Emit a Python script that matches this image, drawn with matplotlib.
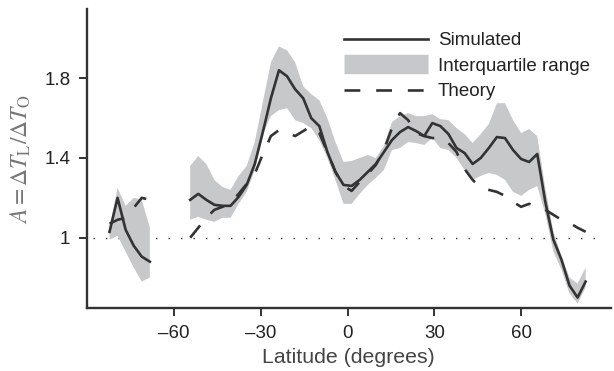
import numpy as np
import matplotlib
matplotlib.use("Agg")
import matplotlib.pyplot as plt
from matplotlib.lines import Line2D

nan = np.nan
lats = [-82.31, -79.53, -76.74, -73.95, -71.16, -68.37, -65.58, -62.79, -60.00, -57.21,
        -54.42, -51.63, -48.84, -46.04, -43.25, -40.46, -37.67, -34.88, -32.09, -29.30,
        -26.51, -23.72, -20.93, -18.14, -15.35, -12.56, -9.77, -6.98, -4.19, -1.40,
        1.40, 4.19, 6.98, 9.77, 12.56, 15.35, 18.14, 20.93, 23.72, 26.51,
        29.30, 32.09, 34.88, 37.67, 40.46, 43.25, 46.04, 48.84, 51.63, 54.42,
        57.21, 60.00, 62.79, 65.58, 68.37, 71.16, 73.95, 76.74, 79.53, 82.31]

simulated = [1.03, 1.20, 1.04, 0.96, 0.905, 0.88, nan, nan, nan, nan,
             1.19, 1.22, 1.19, 1.165, 1.16, 1.16, 1.205, 1.265, 1.37, 1.53,
             1.70, 1.84, 1.81, 1.745, 1.70, 1.60, 1.56, 1.43, 1.33, 1.265,
             1.26, 1.29, 1.33, 1.37, 1.43, 1.49, 1.53, 1.555, 1.535, 1.51,
             1.575, 1.56, 1.52, 1.45, 1.425, 1.37, 1.40, 1.45, 1.505, 1.50,
             1.44, 1.395, 1.38, 1.42, 1.18, 0.99, 0.89, 0.76, 0.70, 0.78]

iqr_low = [0.99, 1.01, 0.93, 0.85, 0.78, 0.80, nan, nan, nan, nan,
           1.09, 1.105, 1.09, 1.08, 1.10, 1.10, 1.17, 1.23, 1.34, 1.52,
           1.61, 1.64, 1.65, 1.59, 1.575, 1.55, 1.49, 1.40, 1.29, 1.17,
           1.17, 1.22, 1.265, 1.30, 1.34, 1.44, 1.45, 1.48, 1.475, 1.465,
           1.50, 1.45, 1.44, 1.40, 1.34, 1.29, 1.31, 1.325, 1.315, 1.29,
           1.23, 1.21, 1.24, 1.26, 1.12, 0.93, 0.84, 0.72, 0.67, 0.75]

iqr_high = [1.05, 1.25, 1.16, 1.20, 1.19, 1.05, nan, nan, nan, nan,
            1.36, 1.41, 1.37, 1.29, 1.255, 1.24, 1.31, 1.36, 1.48, 1.68,
            1.88, 1.96, 1.94, 1.88, 1.76, 1.72, 1.69, 1.60, 1.48, 1.38,
            1.385, 1.40, 1.415, 1.40, 1.46, 1.58, 1.61, 1.625, 1.61, 1.61,
            1.62, 1.595, 1.59, 1.55, 1.52, 1.475, 1.52, 1.57, 1.675, 1.675,
            1.59, 1.525, 1.545, 1.51, 1.25, 1.03, 0.91, 0.80, 0.77, 0.85]

theory = [1.07, 1.09, 1.10, 1.15, 1.20, 1.19, nan, nan, nan, nan,
          1.00, 1.05, 1.10, 1.14, 1.155, 1.175, 1.22, 1.27, 1.32, 1.42,
          1.51, 1.54, 1.53, 1.51, 1.535, 1.56, 1.525, 1.43, 1.33, 1.26,
          1.235, 1.28, 1.32, 1.365, 1.44, 1.55, 1.625, 1.59, 1.525, 1.51,
          1.50, 1.50, 1.475, 1.43, 1.345, 1.29, 1.25, 1.24, 1.23, 1.21,
          1.18, 1.155, 1.17, 1.155, 1.14, 1.115, 1.09, 1.075, 1.05, 1.03]

xticks = [-60, -30, 0, 30, 60]
yticks = [1.0, 1.4, 1.8]
ytick_labels = ["1", "1.4", "1.8"]
ref_line_x = [-87.86, 87.86]

plt.rcParams['font.family'] = ['Liberation Sans', 'DejaVu Sans']
plt.rcParams['mathtext.fontset'] = 'stix'

dark = '#333333'
band = '#c7c8ca'

fig = plt.figure(figsize=(6.14, 3.71), dpi=100)
ax = fig.add_axes([0.1417, 0.169, 0.853, 0.806])

ax.plot(ref_line_x, [1, 1], color=dark, lw=1.0, linestyle=(0, (1, 8)), zorder=1)
ax.fill_between(lats, iqr_low, iqr_high, color=band, lw=0, zorder=2)
ax.plot(lats, theory, color=dark, lw=1.9, linestyle=(0, (6, 6)), zorder=3)
ax.plot(lats, simulated, color=dark, lw=1.9, zorder=4)

ax.set_xlim(-90.1, 91.0)
ax.set_ylim(0.646, 2.146)
ax.set_xticks(xticks)
ax.set_xticklabels([("\u2013%d" % abs(v)) if v < 0 else str(v) for v in xticks])
ax.set_yticks(yticks)
ax.set_yticklabels(ytick_labels)

for s in ['top', 'right']:
    ax.spines[s].set_visible(False)
for s in ['left', 'bottom']:
    ax.spines[s].set_linewidth(1.7)
    ax.spines[s].set_color(dark)
ax.tick_params(axis='both', direction='out', length=6, width=1.4, color=dark,
               labelsize=13.5, labelcolor='#222222', pad=6)

ax.set_xlabel('Latitude (degrees)', fontsize=15.3, color='#444444', labelpad=4)
ax.set_ylabel(r'$A = \Delta T_{\mathrm{L}}/\Delta T_{\mathrm{O}}$', fontsize=17,
              color='#777777', labelpad=8)

handles = [Line2D([], [], color=dark, lw=1.9),
           Line2D([], [], color=band, lw=14, solid_capstyle='butt'),
           Line2D([], [], color=dark, lw=1.9, linestyle=(0, (6, 6)))]
labels = ['Simulated', 'Interquartile range', 'Theory']
leg = ax.legend(handles, labels, loc='upper left', bbox_to_anchor=(344 / 614, 1 - 32 / 371),
                bbox_transform=fig.transFigure, frameon=False, fontsize=13.5,
                handlelength=4.5, handletextpad=0.5, labelspacing=0.45,
                borderpad=0, borderaxespad=0)
for t in leg.get_texts():
    t.set_color('#222222')

fig.savefig('out.png', dpi=100)
